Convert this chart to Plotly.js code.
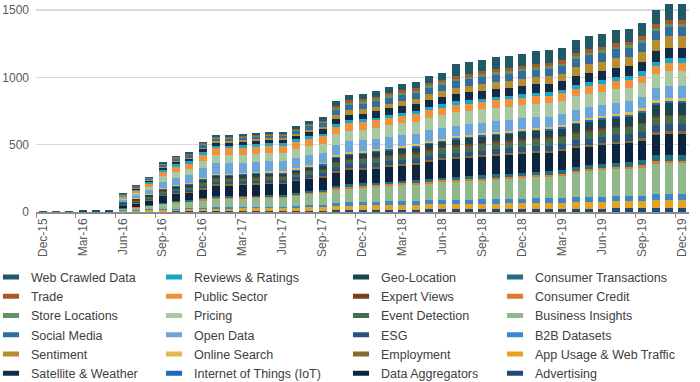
<!DOCTYPE html>
<html>
<head>
<meta charset="utf-8">
<script src="https://cdn.plot.ly/plotly-3.0.1.min.js"></script>
<style>html,body{margin:0;padding:0;background:#fff;}#chart{width:700px;height:382px;}</style>
</head>
<body>
<div id="chart"></div>
<script>
const months = ["Dec-15","Jan-16","Feb-16","Mar-16","Apr-16","May-16","Jun-16","Jul-16","Aug-16","Sep-16","Oct-16","Nov-16",
"Dec-16","Jan-17","Feb-17","Mar-17","Apr-17","May-17","Jun-17","Jul-17","Aug-17","Sep-17","Oct-17","Nov-17",
"Dec-17","Jan-18","Feb-18","Mar-18","Apr-18","May-18","Jun-18","Jul-18","Aug-18","Sep-18","Oct-18","Nov-18",
"Dec-18","Jan-19","Feb-19","Mar-19","Apr-19","May-19","Jun-19","Jul-19","Aug-19","Sep-19","Oct-19","Nov-19","Dec-19"];

// stacked bottom -> top
const advertising = [0,0,0,0,0,0, 2,2,3,3,4,4,5, 6,6,6,7,7,7, 8,9,9,13,14,15, 16,17,17,17,19,20, 21,21,21,23,24,25, 25,25,25,25,25,25, 27,27,30,30,30,30];
const appUsage = [0,0,0,0,0,0, 6,8,10,12,14,16,18, 20,20,21,21,21,21, 23,25,26,31,34,35, 36,37,38,38,39,40, 40,40,40,40,40,40, 42,43,45,48,50,52, 52,52,52,60,60,60];
const b2bDatasets = [0,0,0,0,0,0, 4,5,6,7,8,9,10, 11,11,12,12,12,12, 14,16,17,21,24,25, 26,27,28,28,29,30, 31,31,33,34,34,35, 35,35,36,36,37,37, 37,37,37,45,45,45];
const businessInsights = [0,0,0,0,0,0, 10,15,22,34,39,42,52, 60,60,61,63,65,65, 75,81,87,98,102,103, 106,110,114,118,124,130, 133,136,139,144,147,151, 156,158,165,183,190,198, 202,205,210,224,230,230];
const consumerCredit = [0,0,0,0,0,0, 3,4,5,6,7,7,8, 9,9,9,9,10,10, 10,11,12,14,15,15, 15,15,15,15,15,15, 15,15,15,15,15,15, 15,15,15,15,15,15, 15,15,17,17,17,17];
const consumerTransactions = [0,0,0,3,3,3, 5,6,7,8,9,9,10, 10,10,10,10,10,10, 11,12,13,17,19,20, 20,20,20,20,20,20, 22,23,24,25,26,27, 27,27,28,29,30,30, 33,35,40,45,45,45];
const dataAggregators = [0,0,0,0,0,0, 14,22,30,46,50,52,64, 80,80,80,81,82,82, 86,89,91,98,101,102, 103,107,111,115,125,130, 133,134,135,135,135,136, 136,136,136,138,138,138, 139,140,143,153,153,153];
const employment = [0,0,0,0,0,0, 4,5,6,7,8,9,10, 11,11,11,11,12,12, 12,13,13,14,15,15, 15,15,15,15,15,15, 15,15,15,15,15,15, 15,15,15,16,16,17, 18,19,22,22,25,25];
const esg = [0,0,0,0,0,0, 6,8,10,12,14,15,17, 18,18,18,19,19,19, 20,21,22,27,29,29, 30,30,30,30,30,30, 31,32,33,35,36,37, 38,38,40,42,44,45, 46,46,47,47,48,48];
const eventDetection = [0,0,0,0,0,0, 6,8,10,13,15,17,20, 20,20,20,21,21,21, 22,24,25,31,33,33, 35,36,37,38,40,42, 44,45,47,48,49,50, 50,50,50,51,52,52, 53,53,54,57,57,57];
const expertViews = [0,0,0,0,0,0, 3,3,4,5,6,6,7, 7,7,7,7,7,7, 7,8,8,10,10,10, 10,10,10,10,10,10, 11,11,11,11,11,12, 12,12,12,12,12,12, 12,12,12,12,12,12];
const geoLocation = [2,3,3,4,4,4, 7,8,10,12,14,14,17, 18,18,19,19,19,19, 20,21,22,27,28,29, 31,32,33,34,37,38, 42,44,46,47,47,48, 50,51,53,56,59,62, 65,67,70,80,85,85];
const iot = [0,0,0,0,0,0, 3,3,4,4,5,5,6, 6,6,7,7,7,7, 7,8,8,9,10,10, 10,10,10,10,10,10, 10,10,10,10,10,10, 10,10,11,12,12,12, 13,14,15,18,18,18];
const onlineSearch = [0,0,0,0,0,0, 4,5,6,7,8,9,10, 10,10,10,10,10,10, 11,11,11,12,12,12, 12,13,13,14,15,15, 15,15,15,15,15,15, 15,15,16,16,16,17, 18,18,20,20,20,20];
const openData = [0,0,0,0,0,0, 12,22,30,50,55,58,72, 76,76,76,77,77,77, 78,78,78,79,79,79, 79,79,79,79,79,79, 79,79,79,79,79,79, 79,79,79,81,81,81, 82,82,84,88,88,88];
const pricing = [0,0,0,0,0,0, 11,18,25,38,42,45,52, 59,59,59,60,60,60, 62,64,66,76,79,80, 82,85,88,90,95,97, 99,99,99,99,99,99, 99,99,100,100,101,101, 101,101,102,104,112,112];
const publicSector = [0,0,0,0,0,0, 10,15,22,35,40,42,47, 51,51,51,51,52,52, 52,53,53,54,54,54, 54,54,54,54,55,55, 55,55,55,55,55,55, 55,55,55,56,57,57, 57,57,59,59,59,59];
const reviewsRatings = [0,0,0,0,0,0, 6,8,10,13,15,17,20, 21,21,21,21,21,21, 22,22,22,22,22,22, 22,23,23,24,25,25, 25,25,25,26,26,27, 27,28,28,30,31,32, 32,32,32,35,37,37];
const satelliteWeather = [0,0,0,0,0,0, 6,8,10,16,18,19,22, 23,23,24,24,24,24, 27,29,31,39,42,43, 45,49,50,51,53,54, 56,58,60,61,61,62, 63,63,63,66,66,66, 69,69,72,79,79,79];
const sentiment = [0,0,0,0,0,0, 4,5,6,7,8,9,10, 11,11,11,11,12,12, 14,17,19,30,35,35, 35,36,37,38,40,41, 44,46,48,49,49,50, 52,53,55,62,66,68, 71,71,74,83,87,87];
const socialMedia = [0,0,0,0,0,0, 5,7,9,14,15,16,18, 18,18,19,19,19,19, 22,25,25,36,40,40, 41,45,46,47,49,50, 53,54,55,55,55,56, 57,58,58,63,66,66, 66,66,67,67,67,67];
const storeLocations = [0,0,0,0,0,0, 3,3,4,5,6,7,8, 8,8,8,8,8,8, 9,10,11,14,15,15, 15,16,16,16,17,17, 17,17,17,17,17,17, 18,18,18,19,19,20, 20,20,20,20,20,20];
const trade = [0,0,0,0,0,0, 2,3,3,4,5,6,7, 7,7,7,7,7,7, 8,9,10,16,18,18, 18,19,19,19,21,21, 23,23,23,24,24,25, 25,25,25,25,25,25, 27,27,30,30,35,35];
const webCrawled = [3,4,4,8,8,8, 8,9,9,11,11,12,12, 14,14,14,14,14,14, 18,22,24,34,36,37, 45,46,47,48,50,51, 82,83,83,86,89,89, 92,92,92,96,96,96, 96,96,96,105,115,115];

const series = [
  ["Advertising", advertising, "#1f4a78"],
  ["App Usage & Web Traffic", appUsage, "#e3a426"],
  ["B2B Datasets", b2bDatasets, "#3b87c9"],
  ["Business Insights", businessInsights, "#8fb98a"],
  ["Consumer Credit", consumerCredit, "#df7b2c"],
  ["Consumer Transactions", consumerTransactions, "#22707f"],
  ["Data Aggregators", dataAggregators, "#0c2440"],
  ["Employment", employment, "#866a2e"],
  ["ESG", esg, "#2a5380"],
  ["Event Detection", eventDetection, "#476d4b"],
  ["Expert Views", expertViews, "#7b3d1c"],
  ["Geo-Location", geoLocation, "#1a4551"],
  ["Internet of Things (IoT)", iot, "#1b6db7"],
  ["Online Search", onlineSearch, "#e6b755"],
  ["Open Data", openData, "#6ba6db"],
  ["Pricing", pricing, "#a8c9a1"],
  ["Public Sector", publicSector, "#f0913c"],
  ["Reviews & Ratings", reviewsRatings, "#1ca5c8"],
  ["Satellite & Weather", satelliteWeather, "#112c49"],
  ["Sentiment", sentiment, "#b68e30"],
  ["Social Media", socialMedia, "#336c9f"],
  ["Store Locations", storeLocations, "#5f9461"],
  ["Trade", trade, "#a9582c"],
  ["Web Crawled Data", webCrawled, "#1f5a66"]
];

const traces = series.map(s => ({
  type: "bar", name: s[0], x: months, y: s[1],
  marker: {color: s[2], line: {width: 0}},
  showlegend: false, hoverinfo: "x+y+name", cliponaxis: false
}));

// legend entries (reverse order, 4 columns of 6)
const legendIds = ["legend", "legend2", "legend3", "legend4"];
const rev = series.slice().reverse();
rev.forEach((s, i) => {
  traces.push({
    type: "scatter", mode: "markers", name: s[0], x: [null], y: [null],
    marker: {symbol: "line-ew-open", size: 11.5, color: s[2], line: {color: s[2], width: 5}},
    showlegend: true, legend: legendIds[Math.floor(i / 6)], hoverinfo: "skip"
  });
});

const legendFont = {family: "Liberation Sans, Arial, sans-serif", size: 12.5, color: "#404040"};
function mkLegend(px) {
  return {x: (px - 36) / 653, y: -0.24, xanchor: "left", yanchor: "top",
    orientation: "v", traceorder: "normal", font: legendFont, bgcolor: "rgba(0,0,0,0)", borderwidth: 0,
    tracegroupgap: 0, itemclick: false};
}

const layout = {
  width: 700, height: 382,
  margin: {l: 36, r: 11, t: 2, b: 170, autoexpand: false},
  paper_bgcolor: "#ffffff", plot_bgcolor: "#ffffff",
  font: {family: "Liberation Sans, Arial, sans-serif", size: 12, color: "#595959"},
  barmode: "stack", bargap: 0.4,
  xaxis: {
    type: "category", categoryorder: "array", categoryarray: months,
    range: [-0.5, 48.5], tickmode: "linear", tick0: 0, dtick: 3, tickson: "boundaries",
    ticks: "outside", ticklen: 4, tickcolor: "#8c8c8c", tickwidth: 1,
    showline: true, linecolor: "#8c8c8c", linewidth: 1.5,
    showgrid: false, tickangle: -90,
    tickfont: {size: 12, color: "#595959"}, fixedrange: true
  },
  yaxis: {
    range: [0, 1560], tickmode: "array", tickvals: [0, 500, 1000, 1500],
    ticktext: ["0", "500", "1000", "1500"],
    showgrid: true, gridcolor: "#d9d9d9", gridwidth: 1.5, zeroline: false,
    showline: false, ticks: "", ticklabelstandoff: 6,
    tickfont: {size: 12, color: "#595959"}, fixedrange: true
  },
  shapes: [{type: "line", xref: "paper", yref: "y", x0: 0, x1: 1, y0: 1500, y1: 1500,
    line: {color: "#9a9a9a", width: 1.5}, layer: "below"}],
  legend: mkLegend(-9),
  legend2: mkLegend(154),
  legend3: mkLegend(341),
  legend4: mkLegend(495)
};

Plotly.newPlot("chart", traces, layout, {displayModeBar: false, staticPlot: true});
</script>
</body>
</html>
